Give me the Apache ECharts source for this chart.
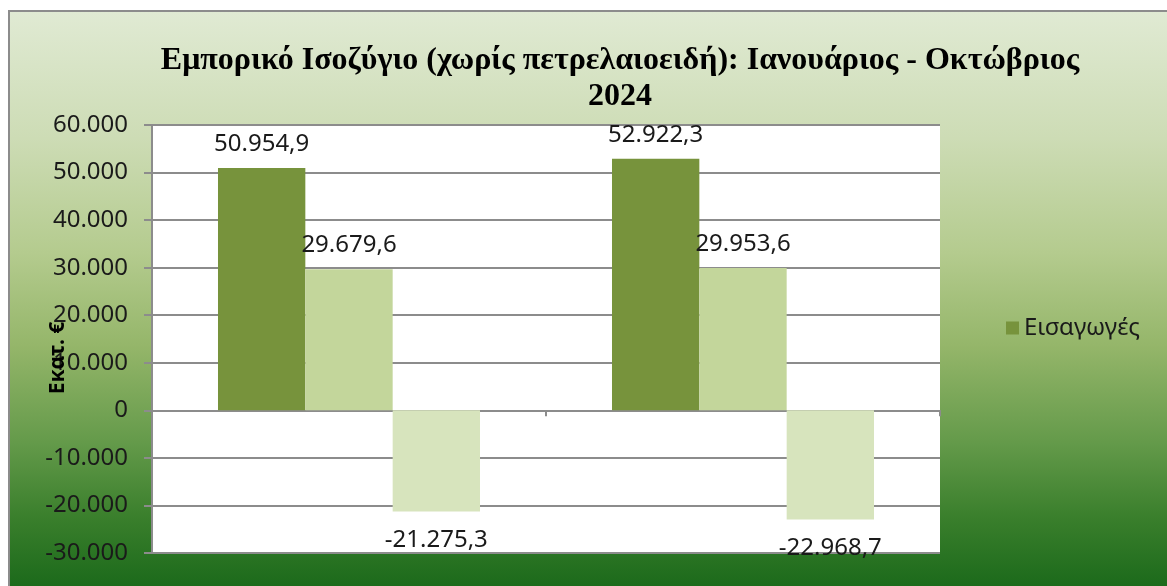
<!DOCTYPE html>
<html>
<head>
<meta charset="utf-8">
<script src="https://cdn.jsdelivr.net/npm/echarts@6/dist/echarts.min.js"></script>
<style>
  html, body { margin: 0; padding: 0; background: #ffffff; }
  #bg { position: absolute; left: 8px; top: 10px; width: 1159px; height: 576px;
        border-left: 2px solid #8c8c8c; border-top: 2px solid #8c8c8c; box-sizing: border-box;
        background: linear-gradient(to bottom, #e0ead3 0%, #cddcb5 22%, #b4cb8e 42%, #95b66a 58%, #649a4a 75%, #3a7f2c 88%, #1c6a1b 100%); }
  #chart { position: absolute; left: 0; top: 0; width: 1167px; height: 586px; }
</style>
</head>
<body>
<div id="bg"></div>
<div id="chart"></div>
<script>
const categories = ['Ιανουάριος - Οκτώβριος 2023', 'Ιανουάριος - Οκτώβριος 2024'];
const seriesNames = ['Εισαγωγές', 'Εξαγωγές', 'Εμπορικό Ισοζύγιο'];
const imports = [50954.9, 52922.3];
const exports = [29679.6, 29953.6];
const balance = [-21275.3, -22968.7];
const yTicks = { min: -30000, max: 60000, interval: 10000 };
const titleText = 'Εμπορικό Ισοζύγιο (χωρίς πετρελαιοειδή): Ιανουάριος - Οκτώβριος\n2024';
const yAxisTitle = 'Εκατ. €';

function grInt(n) {
  const s = Math.abs(Math.round(n)).toString().replace(/\B(?=(\d{3})+(?!\d))/g, '.');
  return (n < 0 ? '-' : '') + s;
}
function grDec(n) {
  const parts = Math.abs(n).toFixed(1).split('.');
  const ip = parts[0].replace(/\B(?=(\d{3})+(?!\d))/g, '.');
  return (n < 0 ? '-' : '') + ip + ',' + parts[1];
}

const chart = echarts.init(document.getElementById('chart'), null, { renderer: 'canvas' });
const labelFont = { fontFamily: 'Noto Sans', fontSize: 24, color: '#1a1a1a' };
function mkSeries(name, data, color, neg) {
  return {
    name: name, type: 'bar', data: data,
    barGap: '0%', barCategoryGap: '33.5%',
    itemStyle: { color: color },
    label: Object.assign({
      show: true, position: neg ? 'bottom' : 'top', distance: neg ? 17 : 12,
      formatter: p => grDec(p.value)
    }, labelFont)
  };
}
chart.setOption({
  animation: false,
  backgroundColor: 'transparent',
  title: {
    text: titleText, left: 615, top: 38, textAlign: 'center',
    textStyle: { fontFamily: 'Liberation Serif', fontWeight: 'bold', fontSize: 32, lineHeight: 36, color: '#000' }
  },
  legend: {
    data: [seriesNames[0]], left: 1001, top: 311, icon: 'rect', itemWidth: 13, itemHeight: 13, itemGap: 6,
    textStyle: { fontFamily: 'Noto Sans', fontSize: 24, color: '#1a1a1a' }
  },
  grid: { left: 152, top: 125, right: 227, bottom: 33, show: true, backgroundColor: '#ffffff', borderWidth: 0 },
  xAxis: {
    type: 'category', data: categories,
    axisLine: { onZero: true, lineStyle: { color: '#8c8c8c', width: 2 } },
    axisTick: { show: true, length: 6, lineStyle: { color: '#8c8c8c', width: 2 } },
    axisLabel: { show: false }
  },
  yAxis: {
    type: 'value', min: yTicks.min, max: yTicks.max, interval: yTicks.interval,
    axisLine: { show: true, lineStyle: { color: '#8c8c8c', width: 2 } },
    axisTick: { show: true, length: 8, lineStyle: { color: '#8c8c8c', width: 2 } },
    splitLine: { lineStyle: { color: '#8c8c8c', width: 2 } },
    axisLabel: { formatter: v => grInt(v), margin: 24, fontFamily: 'Noto Sans', fontSize: 24, color: '#1a1a1a' }
  },
  graphic: [{
    type: 'text', x: 58, y: 358, rotation: Math.PI / 2,
    style: { text: yAxisTitle, fontFamily: 'Noto Sans', fontWeight: 'bold', fontSize: 21, fill: '#000', align: 'center', verticalAlign: 'middle' },
    z: 100
  }],
  series: [
    mkSeries(seriesNames[0], imports, '#77933c', false),
    mkSeries(seriesNames[1], exports, '#c3d69b', false),
    mkSeries(seriesNames[2], balance, '#d7e4bd', true)
  ]
});
</script>
</body>
</html>
